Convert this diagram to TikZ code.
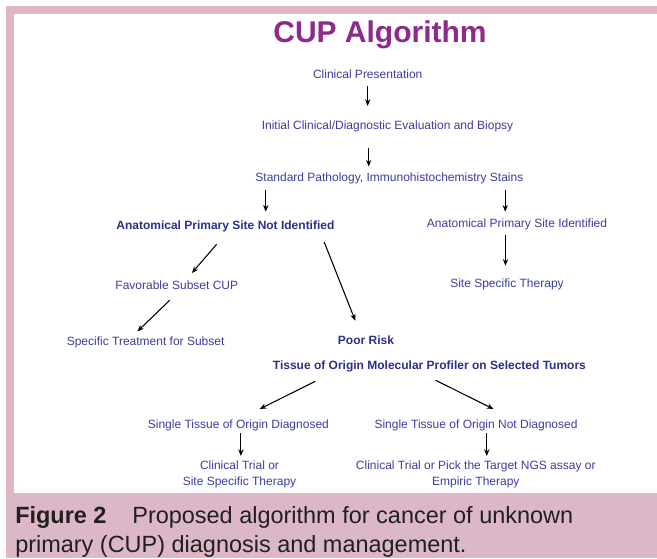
\documentclass[tikz,border=0pt]{standalone}
\usepackage{fontspec}
\setmainfont{Liberation Sans}
\usetikzlibrary{arrows.meta,calc}
\definecolor{cuppurple}{HTML}{8E2A8C}
\definecolor{cupblue}{HTML}{3D3D9E}
\definecolor{cupnavy}{HTML}{2E2F8A}
\definecolor{cuppink}{HTML}{DBB7C7}
\definecolor{cupink}{HTML}{231F20}
\tikzset{
  lbl/.style={font=\fontsize{9}{11.5}\selectfont, color=cupblue, inner sep=0pt, align=center},
  one/.style={lbl, text height=6.5pt, text depth=1.8pt},
  bld/.style={one, font=\fontsize{9}{11.5}\selectfont\bfseries, color=cupnavy},
  arr/.style={-{Stealth[length=5pt,width=4pt]}, line width=0.8pt, color=black},
  capt/.style={anchor=base west, inner sep=0pt, font=\fontsize{17.6}{21}\selectfont, color=cupink},
}

\begin{document}
\begin{tikzpicture}[x=0.75pt,y=-0.75pt]
  \useasboundingbox (0,0) rectangle (657,558);
  \fill[white] (0,0) rectangle (657,558);
  \fill[cuppink] (6,6) rectangle (657,558);
  \fill[white] (14,14) rectangle (657,493);
  % title
  \node[anchor=base, inner sep=0pt, font=\fontsize{22.5}{26}\selectfont\bfseries, color=cuppurple] (title) at (380,42.7) {CUP Algorithm};
  % main column
  \node[one] (clin) at (367.7,75) {Clinical Presentation};
  \node[one] (init) at (387.5,126.7) {Initial Clinical/Diagnostic Evaluation and Biopsy};
  \node[one] (std) at (389.4,178.3) {Standard Pathology, Immunohistochemistry Stains};
  % site branches
  \node[bld] (apsni) at (225.4,226) {Anatomical Primary Site Not Identified};
  \node[one] (apsi) at (517,224) {Anatomical Primary Site Identified};
  \node[one] (sst) at (507,284) {Site Specific Therapy};
  \node[one] (fav) at (176.8,286) {Favorable Subset CUP};
  \node[one] (spec) at (145.6,342.7) {Specific Treatment for Subset};
  \node[bld] (poor) at (366,341) {Poor Risk};
  \node[bld] (toomp) at (429.4,366.7) {Tissue of Origin Molecular Profiler on Selected Tumors};
  % tissue of origin
  \node[one] (stod) at (238.4,425) {Single Tissue of Origin Diagnosed};
  \node[one] (stond) at (476,425) {Single Tissue of Origin Not Diagnosed};
  \node[lbl] (ct1) at (239.5,474.5) {Clinical Trial or\\Site Specific Therapy};
  \node[lbl] (ct2) at (475.8,474.5) {Clinical Trial or Pick the Target NGS assay or\\Empiric Therapy};
  % arrows
  \draw[arr] ($(clin.south)+(0,5.5)$) -- ($(clin.south |- init.north)+(0,-15)$);
  \draw[arr] ($(init.south)+(-18.8,15)$) -- ($(init.south |- std.north)+(-18.8,-6)$);
  \draw[arr] ($(std.south west)+(10.6,6)$) -- ($(std.south west |- apsni.north)+(10.6,-8.5)$);
  \draw[arr] ($(std.south east)+(-18.4,6)$) -- ($(std.south east |- apsi.north)+(-18.4,-6.5)$);
  \draw[arr] ($(apsi.south)+(-11.5,5.5)$) -- ($(apsi.south |- sst.north)+(-11.5,-12.5)$);
  \draw[arr] ($(apsni.south)+(-8.8,12.5)$) -- ($(fav.north)+(15.1,-7.2)$);
  \draw[arr] ($(fav.south)+(-7.1,8.5)$) -- ($(spec.north)+(-8.2,-5.5)$);
  \draw[arr] ($(apsni.south east)+(-10.5,10.2)$) -- ($(poor.north)+(-10.7,-14.5)$);
  \draw[arr] ($(toomp.south west)+(42.6,8.8)$) -- ($(stod.north)+(21.3,-10.2)$);
  \draw[arr] ($(toomp.south)+(6.3,7.8)$) -- ($(stond.north)+(17.5,-10.2)$);
  \draw[arr] ($(stod.south)+(2.5,2)$) -- ($(stod.south |- ct1.north)+(2.5,-5)$);
  \draw[arr] ($(stond.south)+(10.8,2)$) -- ($(stond.south |- ct2.north)+(10.8,-5)$);
  % caption
  \node[capt] (cap1) at (15,523) {\textbf{Figure 2}\hspace{1.1em}Proposed algorithm for cancer of unknown};
  \node[capt] (cap2) at (15,552) {primary (CUP) diagnosis and management.};
\end{tikzpicture}
\end{document}
